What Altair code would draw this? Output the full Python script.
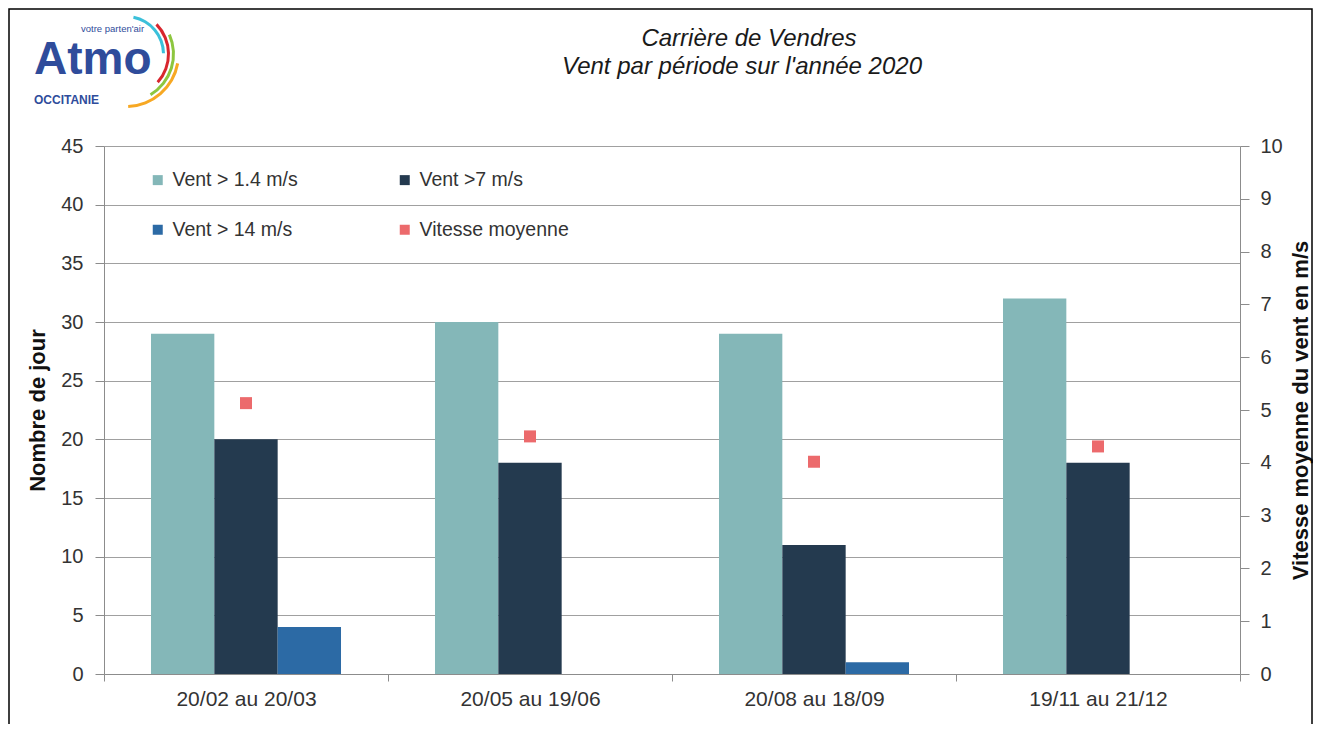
import altair as alt
import pandas as pd

# ---- data ----
periods = ["20/02 au 20/03", "20/05 au 19/06", "20/08 au 18/09", "19/11 au 21/12"]
series_names = ["Vent > 1.4 m/s", "Vent >7 m/s", "Vent > 14 m/s", "Vitesse moyenne"]
vent_gt_1_4 = [29, 30, 29, 32]
vent_gt_7 = [20, 18, 11, 18]
vent_gt_14 = [4, 0, 1, 0]
vitesse_moyenne = [5.13, 4.5, 4.02, 4.31]
left_ticks = [0, 5, 10, 15, 20, 25, 30, 35, 40, 45]
right_ticks = [0, 1, 2, 3, 4, 5, 6, 7, 8, 9, 10]
series_colors = {"Vent > 1.4 m/s": "#84B7B8", "Vent >7 m/s": "#243A4F",
                 "Vent > 14 m/s": "#2C6AA5", "Vitesse moyenne": "#EC6A6C"}
# legend is filled column by column: column 1 = 1.4 & 14, column 2 = 7 & moyenne
legend_order = ["Vent > 1.4 m/s", "Vent > 14 m/s", "Vent >7 m/s", "Vitesse moyenne"]

bars_df = pd.DataFrame({
    "periode": periods * 3,
    "serie": [series_names[0]] * 4 + [series_names[1]] * 4 + [series_names[2]] * 4,
    "jours": vent_gt_1_4 + vent_gt_7 + vent_gt_14,
})
pts_df = pd.DataFrame({
    "periode": periods,
    "serie": [series_names[3]] * 4,
    "vitesse": vitesse_moyenne,
})
one = pd.DataFrame({"a": [0]})

FONT = "Liberation Sans"
W, H = 1136, 528

color_scale = alt.Scale(domain=legend_order, range=[series_colors[s] for s in legend_order])
x_enc = alt.X("periode:N", sort=periods, scale=alt.Scale(paddingInner=0, paddingOuter=0),
              axis=alt.Axis(title=None, tickBand="extent", labelAngle=0, labelFontSize=21,
                            labelColor="#333333", labelFont=FONT, tickSize=7, labelPadding=7,
                            domainColor="#8c8c8c", tickColor="#8c8c8c", grid=False))

legend = alt.Legend(title=None, orient="none", legendX=44, legendY=24, columns=2,
                    columnPadding=97, rowPadding=29, symbolType="square", symbolSize=100,
                    symbolStrokeWidth=0, labelFontSize=19.5, labelFont=FONT,
                    labelColor="#333333", labelOffset=5, padding=0)

bars = alt.Chart(bars_df).mark_bar().encode(
    x=x_enc,
    xOffset=alt.XOffset("serie:N", sort=series_names[:3],
                        scale=alt.Scale(paddingOuter=0.742, paddingInner=0)),
    y=alt.Y("jours:Q", scale=alt.Scale(domain=[0, 45], nice=False),
            axis=alt.Axis(title="Nombre de jour", values=left_ticks, grid=True,
                          gridColor="#a0a0a0", gridWidth=1, tickSize=9, labelPadding=12,
                          labelFontSize=20, labelFont=FONT, labelColor="#333333",
                          domainColor="#8c8c8c", tickColor="#8c8c8c",
                          titleFont=FONT, titleFontSize=22, titleFontWeight="bold",
                          titleColor="#111111", titleAngle=270, titleX=-67, titleY=H / 2,
                          titleAlign="center", titleBaseline="middle")),
    color=alt.Color("serie:N", scale=color_scale, legend=legend),
)

points = alt.Chart(pts_df).mark_point(shape="square", filled=True, size=144, opacity=1).encode(
    x=alt.X("periode:N", sort=periods),
    y=alt.Y("vitesse:Q", scale=alt.Scale(domain=[0, 10], nice=False),
            axis=alt.Axis(title="Vitesse moyenne du vent en m/s", orient="right",
                          values=right_ticks, grid=False, tickSize=9, labelPadding=11,
                          labelFontSize=20, labelFont=FONT, labelColor="#333333",
                          domainColor="#8c8c8c", tickColor="#8c8c8c",
                          titleFont=FONT, titleFontSize=22, titleFontWeight="bold",
                          titleColor="#111111", titleAngle=270, titleX=60, titleY=H / 2,
                          titleAlign="center", titleBaseline="middle")),
    color=alt.Color("serie:N", scale=color_scale, legend=legend),
)

frame = alt.Chart(one).mark_rect(fillOpacity=0, stroke="#000000", strokeWidth=1.5).encode(
    x=alt.value(-95), x2=alt.value(1208), y=alt.value(-137), y2=alt.value(700)
)

title1 = alt.Chart(one).mark_text(text="Carrière de Vendres", font=FONT, fontSize=24,
                                  fontStyle="italic", color="#1a1a1a", align="center",
                                  baseline="alphabetic").encode(
    x=alt.value(645), y=alt.value(-100))
title2 = alt.Chart(one).mark_text(text="Vent par période sur l'année 2020", font=FONT,
                                  fontSize=24, fontStyle="italic", color="#1a1a1a",
                                  align="center", baseline="alphabetic").encode(
    x=alt.value(638), y=alt.value(-72))

# logo
logo_atmo = alt.Chart(one).mark_text(text="Atmo", font=FONT, fontSize=46, fontWeight="bold",
                                     color="#2F4C9B", align="left", baseline="alphabetic").encode(
    x=alt.value(-70), y=alt.value(-72))
logo_occ = alt.Chart(one).mark_text(text="OCCITANIE", font=FONT, fontSize=12, fontWeight="bold",
                                    color="#2F4C9B", align="left", baseline="alphabetic").encode(
    x=alt.value(-70), y=alt.value(-42))
logo_small = alt.Chart(one).mark_text(text="votre parten'air", font=FONT, fontSize=9.5,
                                      color="#2F4C9B", align="left", baseline="alphabetic").encode(
    x=alt.value(-23), y=alt.value(-114))
arcs = []
for col, r0, r1, t0, t1 in [("#3BC0DA", 36, 39, 0.2, 1.55), ("#D8262E", 41, 44, 0.8, 2.3),
                            ("#8DC63F", 46, 49, 1.15, 2.6), ("#F7A823", 51, 54, 1.75, 3.1)]:
    arcs.append(alt.Chart(one).mark_arc(color=col, radius=r0, radius2=r1, theta=t0, theta2=t1).encode(
        x=alt.value(22), y=alt.value(-92)))

chart = alt.layer(bars, points, frame, title1, title2, logo_atmo, logo_occ, logo_small, *arcs).resolve_scale(
    y="independent"
).properties(
    width=W, height=H,
    autosize=alt.AutoSizeParams(type="none"),
    padding={"left": 96, "top": 138, "right": 73, "bottom": 50},
    background="white",
).configure_view(stroke=None)

chart.save("out.html", embed_options={"renderer": "svg", "actions": False})
